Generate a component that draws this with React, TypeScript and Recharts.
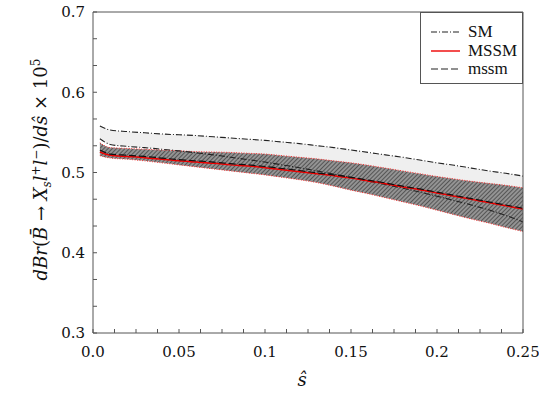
import React from "react";
import { ComposedChart, Area, Line, XAxis, YAxis } from "recharts";

// s-hat values along the x axis
const sHat = [0.004, 0.01, 0.02, 0.03, 0.04, 0.05, 0.06, 0.07, 0.08, 0.09, 0.1, 0.11, 0.12, 0.13, 0.14, 0.15, 0.16, 0.17, 0.18, 0.19, 0.2, 0.21, 0.22, 0.23, 0.24, 0.25];

// SM band (dash-dot edges)
const smUpper = [0.558, 0.553, 0.551, 0.5495, 0.548, 0.547, 0.546, 0.5445, 0.543, 0.5415, 0.54, 0.538, 0.536, 0.5335, 0.531, 0.528, 0.525, 0.522, 0.519, 0.5155, 0.512, 0.509, 0.5055, 0.502, 0.499, 0.4955];
const smLower = [0.542, 0.535, 0.5325, 0.531, 0.529, 0.527, 0.5245, 0.522, 0.519, 0.516, 0.513, 0.5095, 0.506, 0.502, 0.498, 0.494, 0.4895, 0.485, 0.4805, 0.4755, 0.4705, 0.465, 0.4595, 0.4535, 0.4465, 0.4385];

// MSSM band (hatched) and central curves
const mssmHigh = [0.537, 0.531, 0.53, 0.529, 0.528, 0.527, 0.526, 0.5255, 0.525, 0.524, 0.523, 0.521, 0.519, 0.517, 0.5145, 0.512, 0.509, 0.5055, 0.502, 0.4985, 0.495, 0.492, 0.489, 0.4865, 0.484, 0.481];
const mssmLow = [0.521, 0.518, 0.5165, 0.5145, 0.512, 0.5095, 0.507, 0.5045, 0.502, 0.4995, 0.497, 0.494, 0.491, 0.4875, 0.483, 0.478, 0.4735, 0.4685, 0.4635, 0.4585, 0.453, 0.4475, 0.442, 0.437, 0.4315, 0.4265];
const mssmRed = [0.5255, 0.5215, 0.52, 0.5185, 0.5165, 0.5145, 0.513, 0.5115, 0.5095, 0.508, 0.506, 0.5035, 0.501, 0.4985, 0.496, 0.493, 0.4895, 0.486, 0.482, 0.4785, 0.4745, 0.4705, 0.4665, 0.4625, 0.4585, 0.4545];
const mssmDashed = [0.528, 0.523, 0.5215, 0.52, 0.518, 0.516, 0.5145, 0.513, 0.511, 0.5095, 0.5075, 0.505, 0.5025, 0.4995, 0.497, 0.494, 0.4905, 0.487, 0.483, 0.4795, 0.4755, 0.4715, 0.4675, 0.4635, 0.4595, 0.4555];

const xTicks = [0, 0.0125, 0.025, 0.0375, 0.05, 0.0625, 0.075, 0.0875, 0.1, 0.1125, 0.125, 0.1375, 0.15, 0.1625, 0.175, 0.1875, 0.2, 0.2125, 0.225, 0.2375, 0.25];
const xLabels = [0, 0.05, 0.1, 0.15, 0.2, 0.25];
const yTicks = [0.3, 0.3333, 0.3667, 0.4, 0.4333, 0.4667, 0.5, 0.5333, 0.5667, 0.6, 0.6333, 0.6667, 0.7];
const yLabels = [0.3, 0.4, 0.5, 0.6, 0.7];

const legendNames = ["SM", "MSSM", "mssm"];

const data = sHat.map((s, i) => ({
  s,
  smBand: [smLower[i], smUpper[i]],
  mssmBand: [mssmLow[i], mssmHigh[i]],
  smUpper: smUpper[i],
  smLower: smLower[i],
  mssmHigh: mssmHigh[i],
  mssmLow: mssmLow[i],
  mssmRed: mssmRed[i],
  mssmDashed: mssmDashed[i],
}));

// Liberation Serif does not come through inside the svg here, DejaVu Serif does
const SVG_FONT = "DejaVu Serif";
const HTML_FONT = "Liberation Serif";
const AXIS = "#555";

const fmtX = (v: number) => {
  if (!xLabels.some((l) => Math.abs(l - v) < 1e-6)) return "";
  return v === 0 ? "0.0" : String(v);
};
const fmtY = (v: number) => (yLabels.some((l) => Math.abs(l - v) < 1e-6) ? v.toFixed(1) : "");

const YLabel = ({ viewBox }: any) => {
  const cx = viewBox.x + 14;
  const cy = viewBox.y + viewBox.height / 2 - 3;
  return (
    <text x={cx} y={cy} transform={`rotate(-90 ${cx} ${cy})`} textAnchor="middle" fontFamily={SVG_FONT} fontSize={18} fill="#111">
      <tspan fontStyle="italic">dBr</tspan>
      <tspan>(</tspan>
      <tspan fontStyle="italic">B̄</tspan>
      <tspan> → </tspan>
      <tspan fontStyle="italic">X</tspan>
      <tspan fontStyle="italic" fontSize={12} dy={4}>s</tspan>
      <tspan fontStyle="italic" dy={-4}>l</tspan>
      <tspan fontSize={12} dy={-7}>+</tspan>
      <tspan fontStyle="italic" dy={7}>l</tspan>
      <tspan fontSize={12} dy={-7}>−</tspan>
      <tspan dy={7}>)/</tspan>
      <tspan fontStyle="italic">dŝ</tspan>
      <tspan> × 10</tspan>
      <tspan fontSize={12} dy={-7}>5</tspan>
    </text>
  );
};

const XLabel = ({ viewBox }: any) => {
  const cx = viewBox.x + viewBox.width / 2 - 6;
  const cy = viewBox.y + 53;
  return (
    <text x={cx} y={cy} textAnchor="middle" fontFamily={SVG_FONT} fontSize={18} fontStyle="italic" fill="#111">
      ŝ
    </text>
  );
};

const LegendBox = () => (
  <div
    style={{
      position: "absolute", left: 420, top: 12, width: 103, height: 72,
      boxSizing: "border-box", border: `1px solid ${AXIS}`, background: "#fff",
      fontFamily: HTML_FONT, fontSize: 17, color: "#111",
    }}
  >
    {legendNames.map((name, i) => (
      <div key={name} style={{ position: "absolute", left: 10, top: 10 + i * 18.5, height: 18, display: "flex", alignItems: "center" }}>
        <svg width={30} height={10} style={{ marginRight: 7 }}>
          <line
            x1={0} y1={5} x2={29} y2={5}
            stroke={i === 1 ? "#e00" : "#222"}
            strokeWidth={i === 1 ? 1.4 : 1.2}
            strokeDasharray={i === 0 ? "6 2 1 2" : i === 2 ? "7 3" : undefined}
          />
        </svg>
        <span>{name}</span>
      </div>
    ))}
  </div>
);

export default function App() {
  return (
    <div style={{ position: "absolute", left: 0, top: 0, width: 539, height: 406, background: "#fff" }}>
      <ComposedChart width={539} height={406} data={data} margin={{ top: 11, right: 15, left: 33, bottom: 33 }}>
        <defs>
          <pattern id="hatch" patternUnits="userSpaceOnUse" width="3" height="3" patternTransform="rotate(45)">
            <rect width="3" height="3" fill="#a2a2a2" />
            <line x1="1.5" y1="0" x2="1.5" y2="3" stroke="#555" strokeWidth="1.4" />
          </pattern>
        </defs>
        <XAxis
          dataKey="s" type="number" domain={[0, 0.25]} ticks={xTicks} interval={0} allowDataOverflow
          height={40} tickSize={-4} tickMargin={17} tickFormatter={fmtX}
          axisLine={{ stroke: AXIS }} tickLine={{ stroke: AXIS }}
          tick={{ fontSize: 15, fill: "#111", fontFamily: SVG_FONT }}
          label={<XLabel />}
        />
        <XAxis
          xAxisId="top" orientation="top" dataKey="s" type="number" domain={[0, 0.25]} ticks={xTicks} interval={0}
          allowDataOverflow height={1} tickSize={-4} tick={false}
          axisLine={{ stroke: AXIS }} tickLine={{ stroke: AXIS }}
        />
        <YAxis
          type="number" domain={[0.3, 0.7]} ticks={yTicks} interval={0} allowDataOverflow
          width={60} tickSize={-4} tickMargin={12} tickFormatter={fmtY}
          axisLine={{ stroke: AXIS }} tickLine={{ stroke: AXIS }}
          tick={{ fontSize: 15, fill: "#111", fontFamily: SVG_FONT }}
          label={<YLabel />}
        />
        <YAxis
          yAxisId="right" orientation="right" type="number" domain={[0.3, 0.7]} ticks={yTicks} interval={0}
          allowDataOverflow width={1} tickSize={-4} tick={false}
          axisLine={{ stroke: AXIS }} tickLine={{ stroke: AXIS }}
        />
        <Area dataKey="smBand" type="monotone" fill="#efefef" fillOpacity={1} stroke="none" isAnimationActive={false} activeDot={false} />
        <Area dataKey="mssmBand" type="monotone" fill="url(#hatch)" fillOpacity={1} stroke="none" isAnimationActive={false} activeDot={false} />
        <Line dataKey="mssmHigh" type="monotone" stroke="#ff3030" strokeWidth={1} strokeDasharray="1 1.5" dot={false} activeDot={false} isAnimationActive={false} />
        <Line dataKey="mssmLow" type="monotone" stroke="#ff3030" strokeWidth={1} strokeDasharray="1 1.5" dot={false} activeDot={false} isAnimationActive={false} />
        <Line dataKey="smUpper" type="monotone" stroke="#222" strokeWidth={1.1} strokeDasharray="6 2 1 2" dot={false} activeDot={false} isAnimationActive={false} />
        <Line dataKey="smLower" type="monotone" stroke="#222" strokeWidth={1.1} strokeDasharray="6 2 1 2" dot={false} activeDot={false} isAnimationActive={false} />
        <Line dataKey="mssmRed" type="monotone" stroke="#e00" strokeWidth={1.5} dot={false} activeDot={false} isAnimationActive={false} />
        <Line dataKey="mssmDashed" type="monotone" stroke="#111" strokeWidth={1.2} strokeDasharray="7 3" dot={false} activeDot={false} isAnimationActive={false} />
      </ComposedChart>
      <LegendBox />
    </div>
  );
}
